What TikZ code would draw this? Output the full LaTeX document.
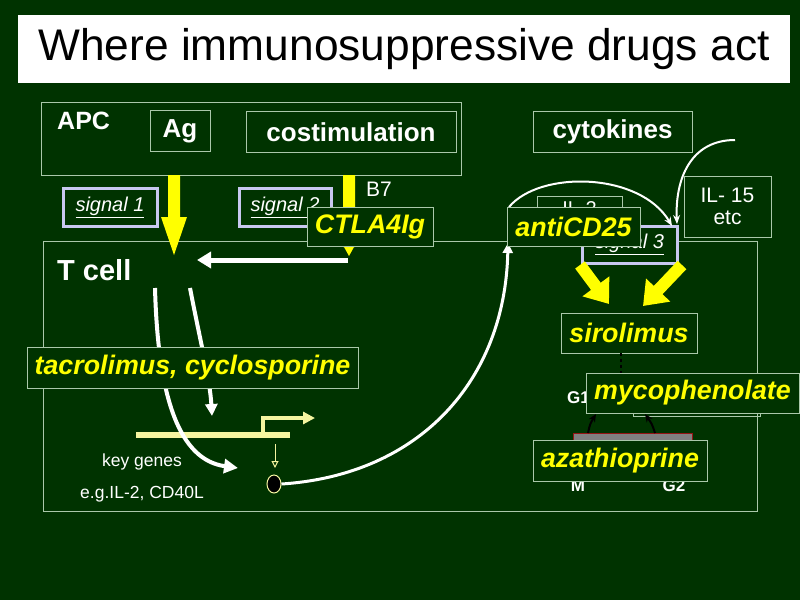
\documentclass[tikz,border=0pt]{standalone}
\usepackage{fontspec}
\setmainfont{Liberation Sans}
\usetikzlibrary{arrows.meta,shapes.geometric}
\definecolor{bg}{RGB}{0,51,0}
\definecolor{bline}{RGB}{170,200,170}
\definecolor{lav}{RGB}{200,200,240}
\definecolor{ylw}{RGB}{255,255,0}
\definecolor{pale}{RGB}{245,245,160}
\newcommand{\fs}[1]{\fontsize{#1}{#1}\selectfont}
\tikzset{
  bx/.style={draw=bline, line width=1pt, fill=bg, inner sep=0pt},
  lbl/.style={text=white, font=\bfseries\fs{26}},
  drug/.style={bx, text=ylw, font=\bfseries\itshape\fs{26.8}},
  sig/.style={draw=lav, line width=3pt, fill=bg, text=white, inner sep=0pt, font=\itshape\fs{20}},
  plain/.style={text=white, font=\fs{21}},
}
\begin{document}
\begin{tikzpicture}[x=1pt,y=-1pt]
\useasboundingbox (0,0) rectangle (800,600);
\fill[bg] (0,0) rectangle (800,600);
% title
\node[fill=white, minimum width=772pt, minimum height=68pt, inner sep=0pt, font=\fs{44.3}, text=black] (title) at (404,49) {Where immunosuppressive drugs act};
% APC and T cell
\node[draw=bline, line width=1pt, minimum width=420pt, minimum height=73pt, inner sep=0pt] (apc) at (251,138.5) {};
\node[draw=bline, line width=1pt, minimum width=714pt, minimum height=270pt, inner sep=0pt] (tcell) at (400,376) {};
\node[lbl, font=\bfseries\fs{25}, anchor=north west, inner sep=0pt] (apct) at (57,112) {APC};
\node[lbl, font=\bfseries\fs{29}, anchor=north west, inner sep=0pt] (tct) at (57,259) {T cell};
\node[bx, lbl, minimum width=60pt, minimum height=41pt] (ag) at (180,131) {Ag};
\node[bx, lbl, minimum width=210pt, minimum height=41pt] (cost) at (351,132) {costimulation};
\node[bx, lbl, minimum width=159pt, minimum height=41pt] (cyto) at (612.5,132) {cytokines};
% signal boxes
\node[sig, minimum width=94pt, minimum height=38pt] (s1) at (110,207) {\underline{signal 1}};
\node[sig, minimum width=92pt, minimum height=38pt] (s2) at (285,207) {\underline{signal 2}};
% yellow arrows
\fill[ylw] (168,175) -- (180,175) -- (180,217) -- (187,217) -- (174,255) -- (161,217) -- (168,217) -- cycle;
\fill[ylw] (343,175) -- (355,175) -- (355,247) -- (354,247) -- (349,256) -- (344,247) -- (343,247) -- cycle;
\node[plain, anchor=west, inner sep=0pt] (b7) at (366,189) {B7};
% IL-15
\node[bx, minimum width=87pt, minimum height=61pt, text=white, font=\fs{21}, align=center] (il15) at (727.5,206.5) {IL- 15\\[1pt]etc};
\coordinate (ilsrc) at (735,140);
\draw[white, line width=2pt, -{Stealth[length=9pt,width=7pt]}] (ilsrc) .. controls (690,140) and (675,180) .. (677,224);
% IL-2 and signal 3
\node[bx, minimum width=85pt, minimum height=26pt, text=white, font=\fs{20}] (il2) at (579.5,209) {IL-2};
\node[sig, minimum width=95pt, minimum height=37pt] (s3) at (629.5,244.5) {\underline{signal 3}};
\draw[white, line width=2pt, -{Stealth[length=9pt,width=7pt]}] (509,207) .. controls (540,170) and (640,172) .. (672,226) ;
% fat yellow arrows into sirolimus
\coordinate (fa1) at (580,265);
\coordinate (fa2) at (682,265);
\node[drug, minimum width=136pt, minimum height=40pt] (siro) at (629,333) {sirolimus};
\draw[ylw, line width=12pt, -{Triangle[length=22pt,width=32pt]}] (fa1) -- (609,304);
\draw[ylw, line width=12pt, -{Triangle[length=22pt,width=32pt]}] (fa2) -- (643,306);
% cell cycle
\draw[black, line width=2pt, dashed] (621,353) -- (621,374);
\node[text=white, font=\bfseries\fs{17}, anchor=west, inner sep=0pt] (g1) at (567,398) {G1};
\node[text=white, font=\bfseries\fs{17}, inner sep=0pt] (mt) at (578,486) {M};
\node[text=white, font=\bfseries\fs{17}, inner sep=0pt] (g2) at (674,486) {G2};
\node[draw=bline, line width=1pt, minimum width=127pt, minimum height=41pt, inner sep=0pt] (hid) at (696.5,395.5) {};
\node[draw={rgb,255:red,150;green,20;blue,20}, fill=gray, line width=1pt, minimum width=119pt, minimum height=15pt, inner sep=0pt] (bar) at (632.5,440.5) {};
\draw[black, line width=2pt, -{Stealth[length=8pt,width=7pt]}] (588,433) .. controls (590,424) .. (596,414);
\draw[black, line width=2pt, -{Stealth[length=8pt,width=7pt]}] (655,433) .. controls (652,424) .. (645,414);
\node[drug, minimum width=213pt, minimum height=40pt] (myco) at (692.5,393) {mycophenolate};
\node[drug, minimum width=174pt, minimum height=41pt] (aza) at (620,460.5) {azathioprine};
% T cell internals
\draw[white, line width=5pt, -{Triangle[length=14pt,width=16pt]}] (348,260) -- (197,260);
\draw[pale, line width=6pt] (136,435) -- (290,435);
\coordinate (bend) at (263,418);
\draw[pale, line width=4pt, -{Triangle[length=12pt,width=12pt]}] (263,433) -- (bend) -- (315,418);
\node[fill=black, draw=pale, line width=1pt, ellipse, minimum width=14pt, minimum height=18pt, inner sep=0pt] (dot) at (274,484) {};
\draw[pale, line width=1pt, -{Triangle[open,length=7pt,width=7pt]}] (275,444) -- (275,468);
\draw[white, line width=4pt, -{Triangle[length=14pt,width=14pt]}] (155,288) .. controls (158,400) and (180,460) .. (238,468);
\draw[white, line width=4pt, -{Triangle[length=12pt,width=12pt]}] (190,288) .. controls (200,340) and (210,380) .. (212,416);
\node[text=white, font=\fs{17.5}] (kg) at (142,462) {key genes};
\node[text=white, font=\fs{17.5}] (eg) at (142,494) {e.g.IL-2, CD40L};
\draw[white, line width=3pt, -{Triangle[length=10pt,width=10pt]}] (dot.east) .. controls (420,475) and (505,380) .. (508,243);
% drug boxes on top
\node[drug, minimum width=126pt, minimum height=39pt] (ctla) at (370,226.5) {CTLA4Ig};
\node[drug, minimum width=133pt, minimum height=39pt] (acd) at (573.5,227) {antiCD25};
\node[drug, minimum width=331pt, minimum height=41pt] (tac) at (192.5,367.5) {tacrolimus, cyclosporine};
\end{tikzpicture}
\end{document}
